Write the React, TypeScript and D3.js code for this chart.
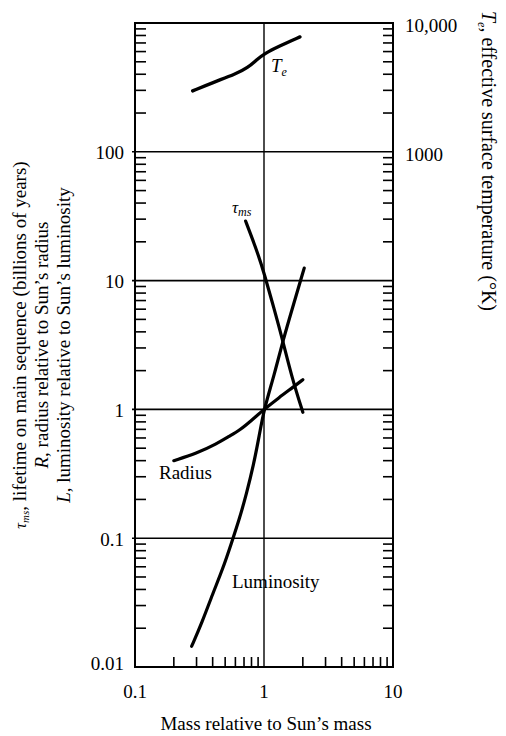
import React from 'react';
import * as d3 from 'd3';

// ---- data ----
const massTickValues = [0.1, 1, 10];
const massTickLabels = ['0.1', '1', '10'];
const leftTickValues = [0.01, 0.1, 1, 10, 100];
const leftTickLabels = ['0.01', '0.1', '1', '10', '100'];
const rightTickValues = [10000, 1000];
const rightTickLabels = ['10,000', '1000'];
const gridYValues = [0.1, 1, 10, 100];
const gridXValues = [1];

const teMass = [0.28, 0.4, 0.6, 0.75, 0.88, 1.0, 1.3, 1.9];
const teValue = [2970, 3450, 4000, 4500, 5200, 5750, 6600, 7800];

const tauMass = [0.72, 0.8, 0.9, 1.0, 1.2, 1.4, 1.65, 2.0];
const tauValue = [29, 22, 16, 11.5, 6.0, 3.4, 1.75, 0.95];

const radiusMass = [0.2, 0.3, 0.43, 0.54, 0.65, 0.8, 1.0, 1.3, 1.7, 2.0];
const radiusValue = [0.4, 0.455, 0.54, 0.62, 0.69, 0.82, 1.0, 1.23, 1.5, 1.7];

const lumMass = [0.275, 0.33, 0.4, 0.48, 0.56, 0.65, 0.73, 0.83, 0.92, 1.0, 1.2, 1.4, 1.7, 2.05];
const lumValue = [0.0145, 0.022, 0.037, 0.058, 0.092, 0.145, 0.22, 0.37, 0.63, 1.0, 1.85, 3.4, 6.6, 12.5];

const FONT = '"Liberation Serif", "Times New Roman", serif';

export default function App() {
  const W = 506, H = 736;
  const L = 135, R = 393, T = 23, B = 667;
  const x = d3.scaleLog().domain([0.1, 10]).range([L, R]);
  const y = d3.scaleLog().domain([0.01, 1000]).range([B, T]);
  const yR = d3.scaleLog().domain([0.1, 10000]).range([B, T]);

  const minor = (lo: number, hi: number) => {
    const out: number[] = [];
    for (let d = lo; d < hi; d++) for (let k = 2; k <= 9; k++) out.push(k * Math.pow(10, d));
    return out;
  };
  const yMinor = minor(-2, 3);
  const xMinor = minor(-1, 1);

  const line = d3.line<[number, number]>().x(d => x(d[0])).y(d => y(d[1])).curve(d3.curveBasis);
  const lineR = d3.line<[number, number]>().x(d => x(d[0])).y(d => yR(d[1])).curve(d3.curveBasis);
  const zip = (a: number[], b: number[]) => a.map((v, i) => [v, b[i]] as [number, number]);

  const fs = 19;

  return (
    <svg width={W} height={H} style={{ position: 'absolute', left: 0, top: 0, background: '#fff' }} fontFamily={FONT}>
      <rect x={0} y={0} width={W} height={H} fill="#fff" />
      {/* grid */}
      {gridYValues.map(v => (
        <line key={'gy' + v} x1={L - 3} x2={R} y1={y(v)} y2={y(v)} stroke="#000" strokeWidth={1.6} />
      ))}
      {gridXValues.map(v => (
        <line key={'gx' + v} x1={x(v)} x2={x(v)} y1={T} y2={B} stroke="#000" strokeWidth={1.4} />
      ))}
      {/* minor ticks */}
      {yMinor.map(v => (
        <g key={'ym' + v}>
          <line x1={L} x2={L + 11} y1={y(v)} y2={y(v)} stroke="#000" strokeWidth={1.6} />
          <line x1={R} x2={R - 10} y1={y(v)} y2={y(v)} stroke="#000" strokeWidth={1.6} />
        </g>
      ))}
      {xMinor.map(v => (
        <line key={'xm' + v} x1={x(v)} x2={x(v)} y1={B} y2={B - 10} stroke="#000" strokeWidth={1.6} />
      ))}
      {/* frame */}
      <rect x={L} y={T} width={R - L} height={B - T} fill="none" stroke="#000" strokeWidth={2} />

      {/* curves */}
      <path d={lineR(zip(teMass, teValue)) || ''} fill="none" stroke="#000" strokeWidth={3.4} strokeLinecap="round" />
      <path d={line(zip(tauMass, tauValue)) || ''} fill="none" stroke="#000" strokeWidth={3.2} strokeLinecap="round" />
      <path d={line(zip(radiusMass, radiusValue)) || ''} fill="none" stroke="#000" strokeWidth={3.2} strokeLinecap="round" />
      <path d={line(zip(lumMass, lumValue)) || ''} fill="none" stroke="#000" strokeWidth={3.2} strokeLinecap="round" />

      {/* curve labels */}
      <text x={271} y={72} fontSize={19} fontStyle="italic">T<tspan fontSize={12} dy={4}>e</tspan></text>
      <text x={232} y={213} fontSize={17} fontStyle="italic">τ<tspan fontSize={12} dy={3}>ms</tspan></text>
      <text x={159} y={479} fontSize={fs}>Radius</text>
      <text x={232} y={588} fontSize={fs}>Luminosity</text>

      {/* left tick labels */}
      {leftTickValues.map((v, i) => (
        <text key={'lt' + v} x={124} y={v === 0.01 ? y(v) + 3 : y(v) + 7.5} fontSize={fs} textAnchor="end">{leftTickLabels[i]}</text>
      ))}
      {/* right tick labels */}
      {rightTickValues.map((v, i) => (
        <text key={'rt' + v} x={405} y={yR(v) + 9} fontSize={fs}>{rightTickLabels[i]}</text>
      ))}
      {/* bottom tick labels */}
      {massTickValues.map((v, i) => (
        <text key={'bt' + v} x={x(v)} y={698} fontSize={fs} textAnchor="middle">{massTickLabels[i]}</text>
      ))}

      {/* axis titles */}
      <text x={266} y={730} fontSize={fs} textAnchor="middle">Mass relative to Sun’s mass</text>

      <text transform={`translate(26, 345) rotate(-90)`} fontSize={fs} textAnchor="middle">
        <tspan fontStyle="italic" fontSize={16}>τ</tspan><tspan fontStyle="italic" fontSize={11} dy={3}>ms</tspan><tspan dy={-3}>, lifetime on main sequence (billions of years)</tspan>
      </text>
      <text transform={`translate(48, 345) rotate(-90)`} fontSize={fs} textAnchor="middle">
        <tspan fontStyle="italic">R</tspan>, radius relative to Sun’s radius
      </text>
      <text transform={`translate(70, 345) rotate(-90)`} fontSize={fs} textAnchor="middle">
        <tspan fontStyle="italic">L</tspan>, luminosity relative to Sun’s luminosity
      </text>

      <text transform={`translate(482, 161) rotate(90)`} fontSize={20} textAnchor="middle">
        <tspan fontStyle="italic">T</tspan><tspan fontStyle="italic" fontSize={12} dy={4}>e</tspan><tspan dy={-4}>, effective surface temperature  (°K)</tspan>
      </text>
    </svg>
  );
}
